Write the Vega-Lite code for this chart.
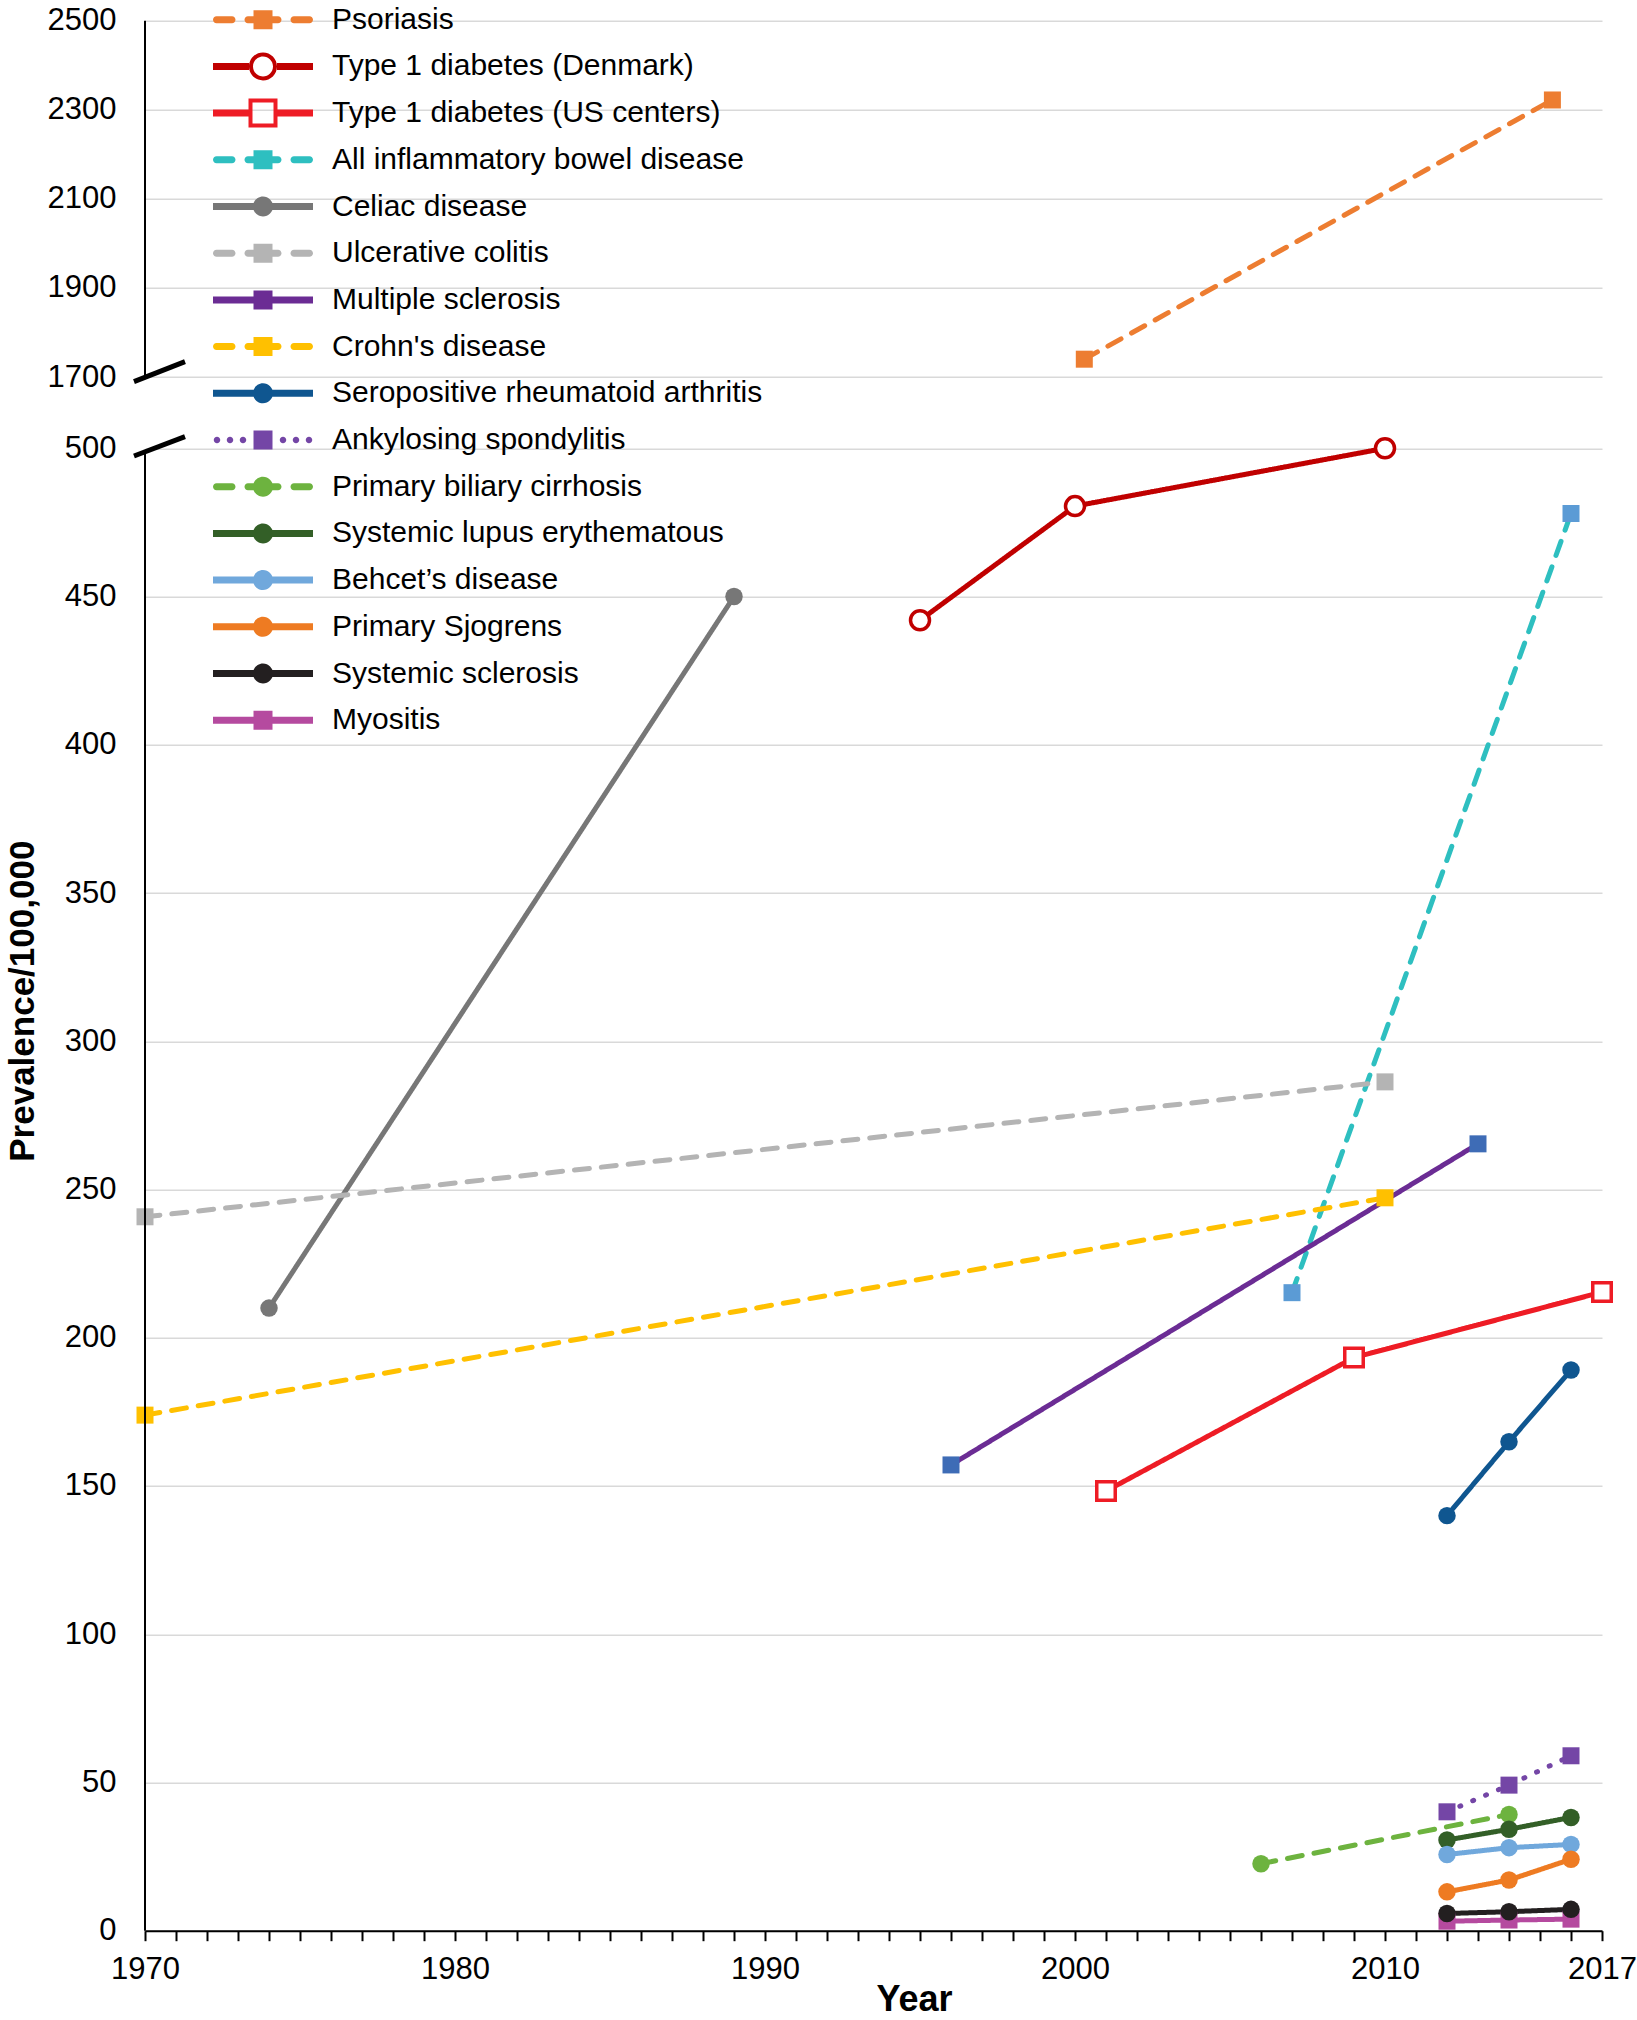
{
  "$schema": "https://vega.github.io/schema/vega-lite/v6.json",
  "width": 1457,
  "height": 1910,
  "autosize": {"type": "none"},
  "padding": {"left": 145, "top": 20.7, "right": 35, "bottom": 89.3},
  "config": {
    "font": "Liberation Sans",
    "view": {"stroke": null},
    "legend": {"labelFont": "Liberation Sans"}
  },
  "datasets": {
    "prev": [
      {"disease": "Psoriasis", "year": 2000.3, "value": 1740},
      {"disease": "Psoriasis", "year": 2015.4, "value": 2322},
      {"disease": "Type 1 diabetes (Denmark)", "year": 1995, "value": 442},
      {"disease": "Type 1 diabetes (Denmark)", "year": 2000, "value": 480.5},
      {"disease": "Type 1 diabetes (Denmark)", "year": 2010, "value": 500},
      {"disease": "Type 1 diabetes (US centers)", "year": 2001, "value": 148.3},
      {"disease": "Type 1 diabetes (US centers)", "year": 2009, "value": 193.3},
      {"disease": "Type 1 diabetes (US centers)", "year": 2017, "value": 215.4},
      {"disease": "All inflammatory bowel disease", "year": 2007, "value": 215.2},
      {"disease": "All inflammatory bowel disease", "year": 2016, "value": 478},
      {"disease": "Celiac disease", "year": 1974, "value": 210},
      {"disease": "Celiac disease", "year": 1989, "value": 450},
      {"disease": "Ulcerative colitis", "year": 1970, "value": 240.8},
      {"disease": "Ulcerative colitis", "year": 2010, "value": 286.3},
      {"disease": "Multiple sclerosis", "year": 1996, "value": 157.1},
      {"disease": "Multiple sclerosis", "year": 2013, "value": 265.4},
      {"disease": "Crohn's disease", "year": 1970, "value": 173.9},
      {"disease": "Crohn's disease", "year": 2010, "value": 247.2},
      {"disease": "Seropositive rheumatoid arthritis", "year": 2012, "value": 140},
      {"disease": "Seropositive rheumatoid arthritis", "year": 2014, "value": 164.9},
      {"disease": "Seropositive rheumatoid arthritis", "year": 2016, "value": 189.1},
      {"disease": "Ankylosing spondylitis", "year": 2012, "value": 40.1},
      {"disease": "Ankylosing spondylitis", "year": 2014, "value": 49.1},
      {"disease": "Ankylosing spondylitis", "year": 2016, "value": 59},
      {"disease": "Primary biliary cirrhosis", "year": 2006, "value": 22.6},
      {"disease": "Primary biliary cirrhosis", "year": 2014, "value": 39.2},
      {"disease": "Systemic lupus erythematous", "year": 2012, "value": 30.6},
      {"disease": "Systemic lupus erythematous", "year": 2014, "value": 34.2},
      {"disease": "Systemic lupus erythematous", "year": 2016, "value": 38.2},
      {"disease": "Behcet’s disease", "year": 2012, "value": 25.7},
      {"disease": "Behcet’s disease", "year": 2014, "value": 28},
      {"disease": "Behcet’s disease", "year": 2016, "value": 29.1},
      {"disease": "Primary Sjogrens", "year": 2012, "value": 13.1},
      {"disease": "Primary Sjogrens", "year": 2014, "value": 17.1},
      {"disease": "Primary Sjogrens", "year": 2016, "value": 24.1},
      {"disease": "Systemic sclerosis", "year": 2012, "value": 5.8},
      {"disease": "Systemic sclerosis", "year": 2014, "value": 6.4},
      {"disease": "Systemic sclerosis", "year": 2016, "value": 7.2},
      {"disease": "Myositis", "year": 2012, "value": 3.2},
      {"disease": "Myositis", "year": 2014, "value": 3.6},
      {"disease": "Myositis", "year": 2016, "value": 3.9}
    ],
    "axisline": [
      {"year": 1970, "value": 0, "value2": 498.6},
      {"year": 1970, "value": 1700, "value2": 2500}
    ],
    "breaks": [
      {"year": 1969.645, "value": 497.4, "year2": 1971.29, "value2": 695.2},
      {"year": 1969.645, "value": 1620.9, "year2": 1971.29, "value2": 1734.4}
    ]
  },
  "encoding": {
    "x": {
      "field": "year",
      "type": "quantitative",
      "scale": {"domain": [1970, 2017], "nice": false, "zero": false},
      "axis": {
        "title": "Year",
        "values": [1970,1971,1972,1973,1974,1975,1976,1977,1978,1979,1980,1981,1982,1983,1984,1985,1986,1987,1988,1989,1990,1991,1992,1993,1994,1995,1996,1997,1998,1999,2000,2001,2002,2003,2004,2005,2006,2007,2008,2009,2010,2011,2012,2013,2014,2015,2016,2017],
        "format": "d",
        "labelExpr": "(datum.value % 10 == 0 || datum.value == 2017) ? datum.label : ''",
        "grid": false,
        "tickSize": 10,
        "tickWidth": 2,
        "tickColor": "#000000",
        "domainColor": "#000000",
        "domainWidth": 2,
        "labelFontSize": 31,
        "labelColor": "#000000",
        "labelPadding": 14,
        "labelFlush": false,
        "labelOverlap": false,
        "titleFontSize": 36,
        "titleFontWeight": "bold",
        "titleColor": "#000000",
        "titleX": 769,
        "titleY": 80,
        "titleBaseline": "alphabetic"
      }
    },
    "y": {
      "field": "value",
      "type": "quantitative",
      "scale": {"domain": [0, 500, 1700, 2500], "range": [1910, 427.6, 356.3, 0], "nice": false, "zero": false},
      "axis": {
        "title": "Prevalence/100,000",
        "values": [0,50,100,150,200,250,300,350,400,450,500,1700,1900,2100,2300,2500],
        "format": "d",
        "grid": true,
        "gridColor": "#d9d9d9",
        "gridWidth": 1.5,
        "domain": false,
        "ticks": false,
        "labelPadding": 29,
        "labelFontSize": 31,
        "labelColor": "#000000",
        "titleFontSize": 35,
        "titleFontWeight": "bold",
        "titleColor": "#000000",
        "titleX": -112,
        "titleY": 980,
        "titleBaseline": "alphabetic"
      }
    }
  },
  "layer": [
    {
      "data": {"name": "prev"},
      "mark": {"type": "line", "strokeWidth": 5, "strokeCap": "round"},
      "encoding": {
        "stroke": {
          "field": "disease", "type": "nominal", "legend": null,
          "scale": {
            "domain": ["Myositis","Systemic sclerosis","Primary Sjogrens","Behcet’s disease","Systemic lupus erythematous","Primary biliary cirrhosis","Ankylosing spondylitis","Seropositive rheumatoid arthritis","Crohn's disease","Multiple sclerosis","Ulcerative colitis","Celiac disease","All inflammatory bowel disease","Type 1 diabetes (US centers)","Type 1 diabetes (Denmark)","Psoriasis"],
            "range": ["#B54A9F","#231F20","#EE7B22","#70A8DC","#335F27","#6DB33F","#7446A6","#0F5690","#FFC000","#6B2C94","#B4B4B4","#777777","#2EBFC0","#EE1C25","#C00000","#ED7D31"]
          }
        },
        "strokeDash": {
          "field": "disease", "type": "nominal", "legend": null,
          "scale": {
            "domain": ["Myositis","Systemic sclerosis","Primary Sjogrens","Behcet’s disease","Systemic lupus erythematous","Primary biliary cirrhosis","Ankylosing spondylitis","Seropositive rheumatoid arthritis","Crohn's disease","Multiple sclerosis","Ulcerative colitis","Celiac disease","All inflammatory bowel disease","Type 1 diabetes (US centers)","Type 1 diabetes (Denmark)","Psoriasis"],
            "range": [[1,0],[1,0],[1,0],[1,0],[1,0],[15,12],[1,13],[1,0],[15,12],[1,0],[15,12],[1,0],[15,12],[1,0],[1,0],[15,12]]
          }
        }
      }
    },
    {
      "data": {"name": "prev"},
      "transform": [{"filter": {"field": "disease", "oneOf": ["Psoriasis","All inflammatory bowel disease","Ulcerative colitis","Multiple sclerosis","Crohn's disease","Ankylosing spondylitis","Myositis"]}}],
      "mark": {"type": "point", "shape": "square", "filled": true, "size": 289, "opacity": 1, "strokeWidth": 0},
      "encoding": {
        "fill": {
          "field": "disease", "type": "nominal", "legend": null,
          "scale": {
            "domain": ["Myositis","Systemic sclerosis","Primary Sjogrens","Behcet’s disease","Systemic lupus erythematous","Primary biliary cirrhosis","Ankylosing spondylitis","Seropositive rheumatoid arthritis","Crohn's disease","Multiple sclerosis","Ulcerative colitis","Celiac disease","All inflammatory bowel disease","Type 1 diabetes (US centers)","Type 1 diabetes (Denmark)","Psoriasis"],
            "range": ["#B54A9F","#231F20","#EE7B22","#70A8DC","#335F27","#6DB33F","#7446A6","#0F5690","#FFC000","#3E6CB6","#B4B4B4","#777777","#5B9BD5","#FFFFFF","#FFFFFF","#ED7D31"]
          }
        }
      }
    },
    {
      "data": {"name": "prev"},
      "transform": [{"filter": {"field": "disease", "oneOf": ["Celiac disease","Seropositive rheumatoid arthritis","Primary biliary cirrhosis","Systemic lupus erythematous","Behcet’s disease","Primary Sjogrens","Systemic sclerosis"]}}],
      "mark": {"type": "point", "shape": "circle", "filled": true, "size": 306, "opacity": 1, "strokeWidth": 0},
      "encoding": {
        "fill": {
          "field": "disease", "type": "nominal", "legend": null,
          "scale": {
            "domain": ["Myositis","Systemic sclerosis","Primary Sjogrens","Behcet’s disease","Systemic lupus erythematous","Primary biliary cirrhosis","Ankylosing spondylitis","Seropositive rheumatoid arthritis","Crohn's disease","Multiple sclerosis","Ulcerative colitis","Celiac disease","All inflammatory bowel disease","Type 1 diabetes (US centers)","Type 1 diabetes (Denmark)","Psoriasis"],
            "range": ["#B54A9F","#231F20","#EE7B22","#70A8DC","#335F27","#6DB33F","#7446A6","#0F5690","#FFC000","#3E6CB6","#B4B4B4","#777777","#5B9BD5","#FFFFFF","#FFFFFF","#ED7D31"]
          }
        }
      }
    },
    {
      "data": {"name": "prev"},
      "transform": [{"filter": {"field": "disease", "equal": "Type 1 diabetes (Denmark)"}}],
      "mark": {"type": "point", "shape": "circle", "filled": false, "color": "#C00000", "fill": "#FFFFFF", "fillOpacity": 1, "strokeWidth": 3.5, "size": 361, "opacity": 1}
    },
    {
      "data": {"name": "prev"},
      "transform": [{"filter": {"field": "disease", "equal": "Type 1 diabetes (US centers)"}}],
      "mark": {"type": "point", "shape": "square", "filled": false, "color": "#EE1C25", "fill": "#FFFFFF", "fillOpacity": 1, "strokeWidth": 3.5, "size": 342, "opacity": 1}
    },
    {
      "data": {"name": "axisline"},
      "mark": {"type": "rule", "color": "#000000", "strokeWidth": 2},
      "encoding": {"y2": {"field": "value2"}}
    },
    {
      "data": {"name": "breaks"},
      "mark": {"type": "rule", "color": "#000000", "strokeWidth": 5},
      "encoding": {"x2": {"field": "year2"}, "y2": {"field": "value2"}}
    },
    {
      "data": {"name": "prev"},
      "transform": [{"filter": "false"}],
      "mark": {"type": "point", "filled": true, "opacity": 1, "strokeWidth": 0},
      "encoding": {
        "color": {
          "field": "disease", "type": "nominal",
          "scale": {
            "domain": ["Psoriasis","Type 1 diabetes (Denmark)","Type 1 diabetes (US centers)","All inflammatory bowel disease","Celiac disease","Ulcerative colitis","Multiple sclerosis","Crohn's disease","Seropositive rheumatoid arthritis","Ankylosing spondylitis","Primary biliary cirrhosis","Systemic lupus erythematous","Behcet’s disease","Primary Sjogrens","Systemic sclerosis","Myositis"],
            "range": ["#ED7D31","#C00000","#EE1C25","#2EBFC0","#777777","#B4B4B4","#6B2C94","#FFC000","#0F5690","#7446A6","#6DB33F","#335F27","#70A8DC","#EE7B22","#231F20","#B54A9F"]
          },
          "legend": {"title": null, "orient": "none", "legendX": 68, "legendY": -19, "symbolSize": 10000, "symbolStrokeWidth": 0, "labelFontSize": 30, "labelColor": "#000000", "labelOffset": 19, "clipHeight": 36, "rowPadding": 10.7, "padding": 0, "labelLimit": 900}
        },
        "shape": {
          "field": "disease", "type": "nominal",
          "scale": {
            "domain": ["Psoriasis","Type 1 diabetes (Denmark)","Type 1 diabetes (US centers)","All inflammatory bowel disease","Celiac disease","Ulcerative colitis","Multiple sclerosis","Crohn's disease","Seropositive rheumatoid arthritis","Ankylosing spondylitis","Primary biliary cirrhosis","Systemic lupus erythematous","Behcet’s disease","Primary Sjogrens","Systemic sclerosis","Myositis"],
            "range": [
              "M-0.93,-0.07H-0.62A0.07,0.07 0 0,1 -0.62,0.07H-0.93A0.07,0.07 0 0,1 -0.93,-0.07Z M-0.3,-0.07H0.3A0.07,0.07 0 0,1 0.3,0.07H-0.3A0.07,0.07 0 0,1 -0.3,-0.07Z M0.62,-0.07H0.93A0.07,0.07 0 0,1 0.93,0.07H0.62A0.07,0.07 0 0,1 0.62,-0.07Z M-0.19,-0.19H0.19V0.19H-0.19Z",
              "M-1,-0.07H-0.28V0.07H-1Z M0.28,-0.07H1V0.07H0.28Z M-0.28,0A0.28,0.28 0 1,1 0.28,0A0.28,0.28 0 1,1 -0.28,0Z M-0.2,0A0.2,0.2 0 1,0 0.2,0A0.2,0.2 0 1,0 -0.2,0Z",
              "M-1,-0.07H-0.29V0.07H-1Z M0.29,-0.07H1V0.07H0.29Z M-0.29,-0.29H0.29V0.29H-0.29Z M-0.21,-0.21V0.21H0.21V-0.21Z",
              "M-0.93,-0.07H-0.62A0.07,0.07 0 0,1 -0.62,0.07H-0.93A0.07,0.07 0 0,1 -0.93,-0.07Z M-0.3,-0.07H0.3A0.07,0.07 0 0,1 0.3,0.07H-0.3A0.07,0.07 0 0,1 -0.3,-0.07Z M0.62,-0.07H0.93A0.07,0.07 0 0,1 0.93,0.07H0.62A0.07,0.07 0 0,1 0.62,-0.07Z M-0.19,-0.19H0.19V0.19H-0.19Z",
              "M-1,-0.07H1V0.07H-1Z M-0.2,0A0.2,0.2 0 1,1 0.2,0A0.2,0.2 0 1,1 -0.2,0Z",
              "M-0.93,-0.07H-0.62A0.07,0.07 0 0,1 -0.62,0.07H-0.93A0.07,0.07 0 0,1 -0.93,-0.07Z M-0.3,-0.07H0.3A0.07,0.07 0 0,1 0.3,0.07H-0.3A0.07,0.07 0 0,1 -0.3,-0.07Z M0.62,-0.07H0.93A0.07,0.07 0 0,1 0.93,0.07H0.62A0.07,0.07 0 0,1 0.62,-0.07Z M-0.19,-0.19H0.19V0.19H-0.19Z",
              "M-1,-0.07H1V0.07H-1Z M-0.19,-0.19H0.19V0.19H-0.19Z",
              "M-0.93,-0.07H-0.62A0.07,0.07 0 0,1 -0.62,0.07H-0.93A0.07,0.07 0 0,1 -0.93,-0.07Z M-0.3,-0.07H0.3A0.07,0.07 0 0,1 0.3,0.07H-0.3A0.07,0.07 0 0,1 -0.3,-0.07Z M0.62,-0.07H0.93A0.07,0.07 0 0,1 0.93,0.07H0.62A0.07,0.07 0 0,1 0.62,-0.07Z M-0.19,-0.19H0.19V0.19H-0.19Z",
              "M-1,-0.07H1V0.07H-1Z M-0.2,0A0.2,0.2 0 1,1 0.2,0A0.2,0.2 0 1,1 -0.2,0Z",
              "M-0.985,0A0.065,0.065 0 1,1 -0.855,0A0.065,0.065 0 1,1 -0.985,0Z M-0.725,0A0.065,0.065 0 1,1 -0.595,0A0.065,0.065 0 1,1 -0.725,0Z M-0.465,0A0.065,0.065 0 1,1 -0.335,0A0.065,0.065 0 1,1 -0.465,0Z M0.335,0A0.065,0.065 0 1,1 0.465,0A0.065,0.065 0 1,1 0.335,0Z M0.595,0A0.065,0.065 0 1,1 0.725,0A0.065,0.065 0 1,1 0.595,0Z M0.855,0A0.065,0.065 0 1,1 0.985,0A0.065,0.065 0 1,1 0.855,0Z M-0.19,-0.19H0.19V0.19H-0.19Z",
              "M-0.93,-0.07H-0.62A0.07,0.07 0 0,1 -0.62,0.07H-0.93A0.07,0.07 0 0,1 -0.93,-0.07Z M-0.3,-0.07H0.3A0.07,0.07 0 0,1 0.3,0.07H-0.3A0.07,0.07 0 0,1 -0.3,-0.07Z M0.62,-0.07H0.93A0.07,0.07 0 0,1 0.93,0.07H0.62A0.07,0.07 0 0,1 0.62,-0.07Z M-0.2,0A0.2,0.2 0 1,1 0.2,0A0.2,0.2 0 1,1 -0.2,0Z",
              "M-1,-0.07H1V0.07H-1Z M-0.2,0A0.2,0.2 0 1,1 0.2,0A0.2,0.2 0 1,1 -0.2,0Z",
              "M-1,-0.07H1V0.07H-1Z M-0.2,0A0.2,0.2 0 1,1 0.2,0A0.2,0.2 0 1,1 -0.2,0Z",
              "M-1,-0.07H1V0.07H-1Z M-0.2,0A0.2,0.2 0 1,1 0.2,0A0.2,0.2 0 1,1 -0.2,0Z",
              "M-1,-0.07H1V0.07H-1Z M-0.2,0A0.2,0.2 0 1,1 0.2,0A0.2,0.2 0 1,1 -0.2,0Z",
              "M-1,-0.07H1V0.07H-1Z M-0.19,-0.19H0.19V0.19H-0.19Z"
            ]
          },
          "legend": {"title": null, "orient": "none", "legendX": 68, "legendY": -19, "symbolSize": 10000, "symbolStrokeWidth": 0, "labelFontSize": 30, "labelColor": "#000000", "labelOffset": 19, "clipHeight": 36, "rowPadding": 10.7, "padding": 0, "labelLimit": 900}
        }
      }
    }
  ]
}
